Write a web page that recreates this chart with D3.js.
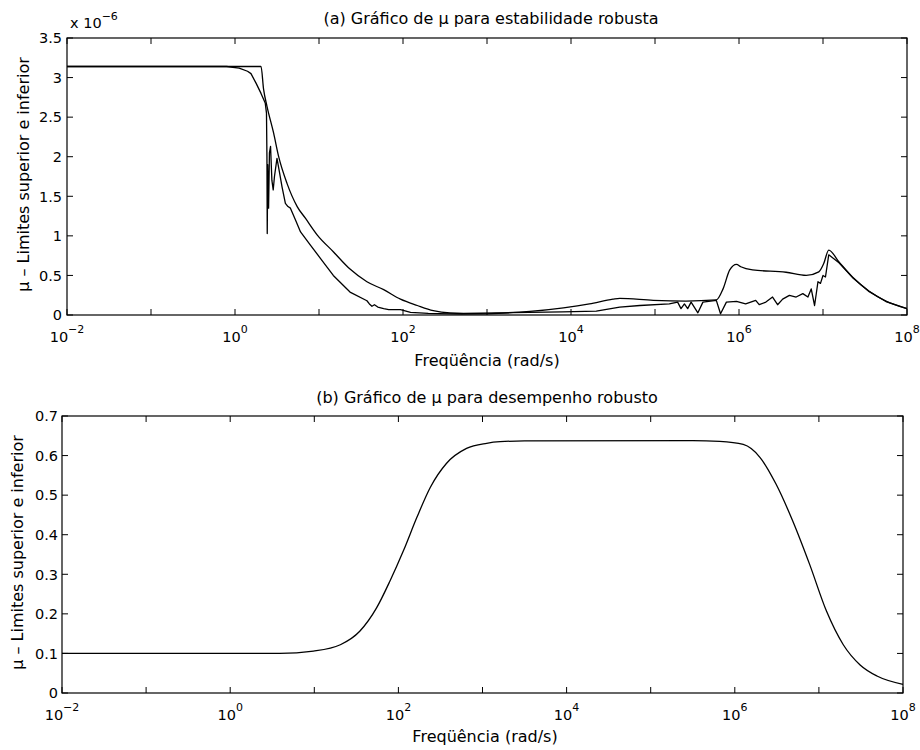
<!DOCTYPE html>
<html>

<head>
    <meta charset="utf-8">
    <style>
        body {
            margin: 0;
            background: white;
        }

        svg {
            display: block;
            font-family: "DejaVu Sans", sans-serif;
        }

        .tick-label {
            font-size: 14.5px;
        }

        .title,
        .axis-title {
            font-size: 16px;
        }
    </style>
</head>

<body>
    <svg width="920" height="750"></svg>

    <script src="https://d3js.org/d3.v7.min.js"></script>

    <script>
        // (a) mu for robust stability, frequency in rad/s, mu in units of 1e-6
        let freqUpperA = [0.01, 2.04, 2.19, 2.40, 2.88, 3.31, 4.17, 5.50, 6.92, 9.55, 14.8, 23.4, 37.2, 58.9,
            93.3, 148, 229, 363, 525, 1290, 3240, 8130, 16600, 31600, 38000, 95500, 234000, 537000,
            646000, 776000, 933000, 1.05e6, 1.45e6, 3.63e6, 6.31e6, 8.91e6, 1.02e7, 1.17e7, 1.55e7,
            2.24e7, 3.55e7, 5.62e7, 1e8]
        let muUpperA = [3.14, 3.14, 2.85, 2.64, 2.30, 2.00, 1.66, 1.37, 1.22, 1.01, 0.80, 0.58, 0.42, 0.32,
            0.20, 0.12, 0.055, 0.025, 0.02, 0.025, 0.045, 0.09, 0.14, 0.20, 0.21, 0.185, 0.176, 0.19,
            0.33, 0.57, 0.64, 0.61, 0.57, 0.54, 0.50, 0.545, 0.65, 0.82, 0.67, 0.48, 0.30, 0.175, 0.08]

        let freqLowerA = [0.01, 0.794, 1.12, 1.41, 1.55, 1.78, 2.04, 2.29, 2.37, 2.40, 2.42, 2.45, 2.51, 2.57,
            2.65, 2.75, 2.85, 2.95, 3.16, 3.39, 3.63, 3.98, 4.27, 4.57, 5.25, 6.03, 7.94, 10.5, 14.8,
            23.4, 37.2, 39.8, 42.7, 45.7, 50.1, 58.9, 67.6, 93.3, 123, 200, 501, 1000, 2000, 7940,
            20000, 38000, 66100, 148000, 186000, 204000, 224000, 245000, 269000, 324000, 372000,
            537000, 603000, 708000, 933000, 1.20e6, 1.58e6, 1.74e6, 2.09e6, 2.51e6, 2.88e6, 3.31e6,
            3.98e6, 4.79e6, 5.75e6, 6.61e6, 7.24e6, 7.94e6, 8.71e6, 9.33e6, 1.00e7, 1.07e7, 1.17e7,
            1.55e7, 2.24e7, 3.55e7, 5.62e7, 1e8]
        let muLowerA = [3.14, 3.14, 3.12, 3.08, 3.05, 2.93, 2.80, 2.68, 2.55, 2.0, 1.03, 1.9, 1.35, 2.05,
            2.13, 1.7, 1.58, 1.75, 1.98, 1.80, 1.62, 1.41, 1.37, 1.35, 1.20, 1.05, 0.88, 0.71, 0.50,
            0.29, 0.18, 0.14, 0.11, 0.13, 0.10, 0.08, 0.067, 0.067, 0.034, 0.02, 0.01, 0.015, 0.03, 0.04,
            0.05, 0.10, 0.12, 0.14, 0.163, 0.08, 0.14, 0.08, 0.163, 0.028, 0.163,
            0.185, 0.015, 0.163, 0.172, 0.14, 0.185, 0.13, 0.163, 0.227, 0.13, 0.20,
            0.248, 0.227, 0.27, 0.227, 0.33, 0.12, 0.42, 0.40, 0.50, 0.48, 0.76,
            0.66, 0.475, 0.295, 0.17, 0.08]

        // (b) mu for robust performance (upper and lower bounds coincide)
        let freqB = [0.01, 3.89, 9.77, 20.4, 34.7, 55.0, 79.4, 115, 166, 240, 372, 646, 1120, 1620,
            3160, 316000, 661000, 1.26e6, 2.00e6, 3.09e6, 4.90e6, 7.76e6, 1.23e7, 1.95e7, 3.09e7,
            4.90e7, 1e8]
        let muB = [0.100, 0.100, 0.106, 0.122, 0.156, 0.215, 0.283, 0.360, 0.444, 0.520, 0.580, 0.618,
            0.631, 0.635, 0.637, 0.638, 0.636, 0.628, 0.595, 0.528, 0.434, 0.325, 0.207, 0.122,
            0.071, 0.043, 0.022]

        // axes
        let xTicks = [1e-2, 1e-1, 1e0, 1e1, 1e2, 1e3, 1e4, 1e5, 1e6, 1e7, 1e8]
        let xLabelTicks = [1e-2, 1e0, 1e2, 1e4, 1e6, 1e8]
        let xLabelExps = ["\u22122", "0", "2", "4", "6", "8"]
        let yTicksA = [0, 0.5, 1, 1.5, 2, 2.5, 3, 3.5]
        let yLabelsA = ["0", "0.5", "1", "1.5", "2", "2.5", "3", "3.5"]
        let yTicksB = [0, 0.1, 0.2, 0.3, 0.4, 0.5, 0.6, 0.7]
        let yLabelsB = ["0", "0.1", "0.2", "0.3", "0.4", "0.5", "0.6", "0.7"]

        let svg = d3.select("svg")
        let tickLen = 6

        function drawPanel(p) {
            let x = d3.scaleLog().domain([1e-2, 1e8]).range([p.left, p.right])
            let y = d3.scaleLinear().domain([0, p.yMax]).range([p.bottom, p.top])

            let g = svg.append("g")

            // frame
            g.append("rect")
                .attr("x", p.left)
                .attr("y", p.top)
                .attr("width", p.right - p.left)
                .attr("height", p.bottom - p.top)
                .style("fill", "none")
                .style("stroke", "black")
                .style("stroke-width", 1.2)

            // x ticks (bottom and top, pointing in)
            g.selectAll(".xt")
                .data(xTicks)
                .join("path")
                .attr("d", d => "M" + x(d) + "," + p.bottom + "v" + (-tickLen) +
                    "M" + x(d) + "," + p.top + "v" + tickLen)
                .style("stroke", "black")
                .style("stroke-width", 1)

            // y ticks (left and right)
            g.selectAll(".yt")
                .data(p.yTicks)
                .join("path")
                .attr("d", d => "M" + p.left + "," + y(d) + "h" + tickLen +
                    "M" + p.right + "," + y(d) + "h" + (-tickLen))
                .style("stroke", "black")
                .style("stroke-width", 1)

            // x tick labels: 10 with exponent
            let xl = g.selectAll(".xl")
                .data(xLabelTicks)
                .join("text")
                .attr("class", "tick-label")
                .attr("x", d => x(d))
                .attr("y", p.bottom + 27)
                .attr("text-anchor", "middle")
            xl.append("tspan").text("10")
            xl.append("tspan")
                .attr("dy", -9)
                .style("font-size", "11px")
                .text((d, i) => xLabelExps[i])

            // y tick labels
            g.selectAll(".yl")
                .data(p.yTicks)
                .join("text")
                .attr("class", "tick-label")
                .attr("x", p.left - p.yLabelGap)
                .attr("y", d => y(d))
                .attr("dy", "0.36em")
                .attr("text-anchor", "end")
                .text((d, i) => p.yLabels[i])

            // titles
            g.append("text")
                .attr("class", "title")
                .attr("x", p.titleX)
                .attr("y", p.titleY)
                .attr("text-anchor", "middle")
                .text(p.title)

            g.append("text")
                .attr("class", "axis-title")
                .attr("x", p.xTitleX)
                .attr("y", p.bottom + p.xTitleGap)
                .attr("text-anchor", "middle")
                .text("Freqüência (rad/s)")

            g.append("text")
                .attr("class", "axis-title")
                .attr("transform", "translate(" + p.yTitleX + "," + ((p.top + p.bottom) / 2 - 2) + ") rotate(-90)")
                .attr("text-anchor", "middle")
                .text("\u03bc \u2013 Limites superior e inferior")

            // curves
            p.series.forEach(s => {
                let line = d3.line()
                    .x((d, i) => x(s.freq[i]))
                    .y(d => y(d))
                    .curve(s.curve)
                g.append("path")
                    .datum(s.mu)
                    .attr("d", line)
                    .style("fill", "none")
                    .style("stroke", "black")
                    .style("stroke-width", 1.3)
                    .style("stroke-linejoin", "round")
            })

            return g
        }

        let panelA = drawPanel({
            left: 67, right: 907, top: 38, bottom: 315,
            yMax: 3.5, yTicks: yTicksA, yLabels: yLabelsA, yLabelGap: 5,
            title: "(a) Gráfico de \u03bc para estabilidade robusta", titleX: 491, titleY: 24,
            xTitleX: 487, xTitleGap: 51, yTitleX: 29,
            series: [
                { freq: freqUpperA, mu: muUpperA, curve: d3.curveMonotoneX },
                { freq: freqLowerA, mu: muLowerA, curve: d3.curveLinear }
            ]
        })

        // exponent note above the y axis of (a)
        let expNote = panelA.append("text")
            .attr("class", "tick-label")
            .attr("x", 70)
            .attr("y", 28)
        expNote.append("tspan").text("x 10")
        expNote.append("tspan")
            .attr("dy", -8)
            .style("font-size", "11px")
            .text("\u22126")

        drawPanel({
            left: 62, right: 903, top: 416, bottom: 693,
            yMax: 0.7, yTicks: yTicksB, yLabels: yLabelsB, yLabelGap: 4,
            title: "(b) Gráfico de \u03bc para desempenho robusto", titleX: 487, titleY: 403,
            xTitleX: 485, xTitleGap: 49, yTitleX: 23,
            series: [
                { freq: freqB, mu: muB, curve: d3.curveMonotoneX }
            ]
        })
    </script>
</body>

</html>
